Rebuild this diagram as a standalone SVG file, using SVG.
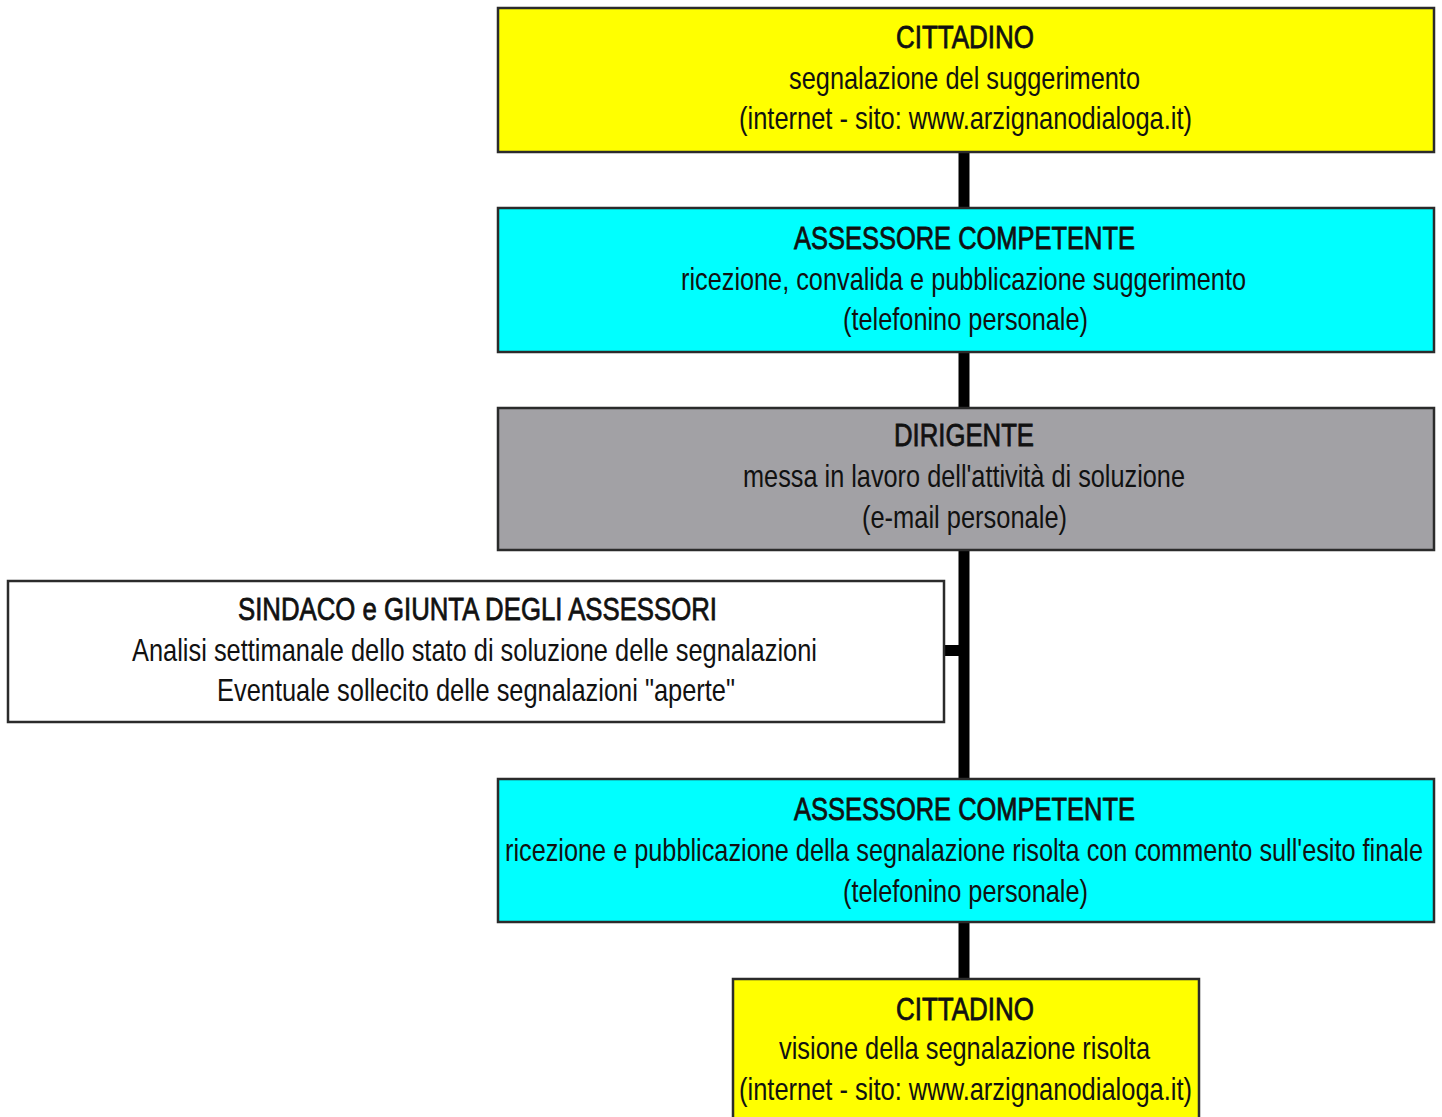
<svg xmlns="http://www.w3.org/2000/svg" width="1442" height="1117" viewBox="0 0 1442 1117">
<style>
.box{stroke:#2b2b2b;stroke-width:2.5}
.y{fill:#ffff00}
.c{fill:#00ffff}
.g{fill:#a2a1a5}
.w{fill:#ffffff}
text{font-family:"Liberation Sans Narrow","Liberation Sans",Arial,sans-serif;font-size:32px;fill:#111}
.t{font-size:32px;stroke:#111;stroke-width:0.8}
.conn{stroke:#000;stroke-width:11;fill:none}
</style>
<rect width="1442" height="1117" fill="#ffffff"/>
<g id="connectors">
<line class="conn" x1="964" y1="152" x2="964" y2="208"/>
<line class="conn" x1="964" y1="352" x2="964" y2="408"/>
<line class="conn" x1="964" y1="550" x2="964" y2="779"/>
<line class="conn" x1="964" y1="922" x2="964" y2="979"/>
<line class="conn" x1="944" y1="650.5" x2="964" y2="650.5" stroke-width="13"/>
</g>
<g id="cittadino1">
<rect class="box y" x="498" y="8" width="936" height="144"/>
<text class="t" x="896" y="48" textLength="138" lengthAdjust="spacingAndGlyphs">CITTADINO</text>
<text x="789" y="89" textLength="351" lengthAdjust="spacingAndGlyphs">segnalazione del suggerimento</text>
<text x="739" y="129" textLength="453" lengthAdjust="spacingAndGlyphs">(internet - sito: www.arzignanodialoga.it)</text>
</g>
<g id="assessore1">
<rect class="box c" x="498" y="208" width="936" height="144"/>
<text class="t" x="794" y="249" textLength="341" lengthAdjust="spacingAndGlyphs">ASSESSORE COMPETENTE</text>
<text x="681" y="290" textLength="565" lengthAdjust="spacingAndGlyphs">ricezione, convalida e pubblicazione suggerimento</text>
<text x="843" y="330" textLength="245" lengthAdjust="spacingAndGlyphs">(telefonino personale)</text>
</g>
<g id="dirigente">
<rect class="box g" x="498" y="408" width="936" height="142"/>
<text class="t" x="894" y="446" textLength="140" lengthAdjust="spacingAndGlyphs">DIRIGENTE</text>
<text x="743" y="487" textLength="442" lengthAdjust="spacingAndGlyphs">messa in lavoro dell'attività di soluzione</text>
<text x="862" y="528" textLength="205" lengthAdjust="spacingAndGlyphs">(e-mail personale)</text>
</g>
<g id="sindaco">
<rect class="box w" x="8" y="581" width="936" height="141"/>
<text class="t" x="238" y="620" textLength="479" lengthAdjust="spacingAndGlyphs">SINDACO e GIUNTA DEGLI ASSESSORI</text>
<text x="132" y="661" textLength="685" lengthAdjust="spacingAndGlyphs">Analisi settimanale dello stato di soluzione delle segnalazioni</text>
<text x="217" y="701" textLength="518" lengthAdjust="spacingAndGlyphs">Eventuale sollecito delle segnalazioni "aperte"</text>
</g>
<g id="assessore2">
<rect class="box c" x="498" y="779" width="936" height="143"/>
<text class="t" x="794" y="820" textLength="341" lengthAdjust="spacingAndGlyphs">ASSESSORE COMPETENTE</text>
<text x="505" y="861" font-size="30" textLength="918" lengthAdjust="spacingAndGlyphs">ricezione e pubblicazione della segnalazione risolta con commento sull'esito finale</text>
<text x="843" y="902" textLength="245" lengthAdjust="spacingAndGlyphs">(telefonino personale)</text>
</g>
<g id="cittadino2">
<rect class="box y" x="733" y="979" width="466" height="150"/>
<text class="t" x="896" y="1020" textLength="138" lengthAdjust="spacingAndGlyphs">CITTADINO</text>
<text x="779" y="1059" textLength="371" lengthAdjust="spacingAndGlyphs">visione della segnalazione risolta</text>
<text x="739" y="1100" textLength="453" lengthAdjust="spacingAndGlyphs">(internet - sito: www.arzignanodialoga.it)</text>
</g>
</svg>
